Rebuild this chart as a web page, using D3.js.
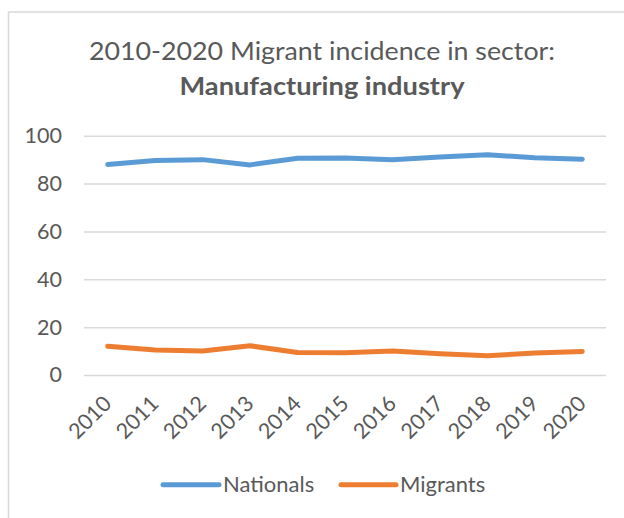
<!DOCTYPE html>
<html>
<head>
<meta charset="utf-8">
<script src="https://cdn.jsdelivr.net/npm/d3@7"></script>
<style>
  html, body { margin: 0; padding: 0; background: #fff; }
  svg { display: block; font-family: Lato, "Open Sans", sans-serif; }
</style>
</head>
<body>
<svg id="chart" width="624" height="518"></svg>
<script>
// Share of employment in manufacturing, nationals vs migrants (%)
const years = ["2010","2011","2012","2013","2014","2015","2016","2017","2018","2019","2020"];
const nationals = [88.0, 89.6, 90.0, 87.8, 90.6, 90.7, 90.0, 91.1, 92.0, 90.8, 90.2];
const migrants  = [12.0, 10.4, 10.0, 12.2, 9.4, 9.3, 10.0, 8.9, 8.0, 9.2, 9.8];
const yTicks = [0, 20, 40, 60, 80, 100];
const seriesNames = ["Nationals", "Migrants"];
const titleLine1 = "2010-2020 Migrant incidence in sector:";
const titleLine2 = "Manufacturing industry";

const series = [
  { name: seriesNames[0], values: nationals, color: "#5B9BD5" },
  { name: seriesNames[1], values: migrants,  color: "#ED7D31" }
];

const textColor = "#595959";
const gridColor = "#D9D9D9";
const labelSize = 21.5;

const svg = d3.select("#chart");

// chart area frame (extends past the right and bottom edges)
svg.append("rect")
  .attr("x", 8.5).attr("y", 12)
  .attr("width", 700).attr("height", 600)
  .attr("fill", "#fff")
  .attr("stroke", gridColor).attr("stroke-width", 1.5);

// title
svg.append("text")
  .attr("x", 322).attr("y", 60)
  .attr("text-anchor", "middle")
  .attr("fill", textColor)
  .attr("font-size", 25.5)
  .attr("textLength", 466).attr("lengthAdjust", "spacingAndGlyphs")
  .text(titleLine1);
svg.append("text")
  .attr("x", 322).attr("y", 95)
  .attr("text-anchor", "middle")
  .attr("fill", textColor)
  .attr("font-size", 25.5)
  .attr("font-weight", "bold")
  .attr("textLength", 285).attr("lengthAdjust", "spacingAndGlyphs")
  .text(titleLine2);

// scales
const x = d3.scaleBand().domain(years).range([84, 606]).padding(0);
const y = d3.scaleLinear().domain([0, 100]).range([375, 135.7]);

// horizontal gridlines + y labels
const yAxis = d3.axisLeft(y).tickValues(yTicks).tickSize(-(606 - 84)).tickPadding(22);
const gy = svg.append("g").attr("transform", "translate(84,0)").call(yAxis);
gy.select(".domain").remove();
gy.selectAll(".tick line").attr("stroke", gridColor).attr("stroke-width", 1.5);
gy.selectAll(".tick text")
  .attr("fill", textColor)
  .attr("font-size", labelSize)
  .attr("font-family", "Lato, 'Open Sans', sans-serif");

// x labels, rotated
const xAxis = d3.axisBottom(x).tickSize(0).tickPadding(0);
const gx = svg.append("g").attr("transform", "translate(0,375)").call(xAxis);
gx.select(".domain").remove();
gx.selectAll(".tick text")
  .attr("fill", textColor)
  .attr("font-size", labelSize)
  .attr("font-family", "Lato, 'Open Sans', sans-serif")
  .attr("text-anchor", "end")
  .attr("dy", null)
  .attr("y", null)
  .attr("transform", "translate(5,30) rotate(-45)");

// lines
const line = d3.line()
  .x((d, i) => x(years[i]) + x.bandwidth() / 2)
  .y(d => y(d));

svg.append("g").selectAll("path")
  .data(series)
  .join("path")
  .attr("d", d => line(d.values))
  .attr("fill", "none")
  .attr("stroke", d => d.color)
  .attr("stroke-width", 5)
  .attr("stroke-linejoin", "round")
  .attr("stroke-linecap", "round");

// legend
const legendItems = [
  { x0: 163, x1: 219, tx: 223 },
  { x0: 341, x1: 396, tx: 400 }
];
const lg = svg.append("g");
series.forEach((s, i) => {
  const p = legendItems[i];
  lg.append("line")
    .attr("x1", p.x0).attr("x2", p.x1)
    .attr("y1", 484.7).attr("y2", 484.7)
    .attr("stroke", s.color).attr("stroke-width", 5)
    .attr("stroke-linecap", "round");
  lg.append("text")
    .attr("x", p.tx).attr("y", 492)
    .attr("fill", textColor)
    .attr("font-size", 22)
    .text(s.name);
});
</script>
</body>
</html>
